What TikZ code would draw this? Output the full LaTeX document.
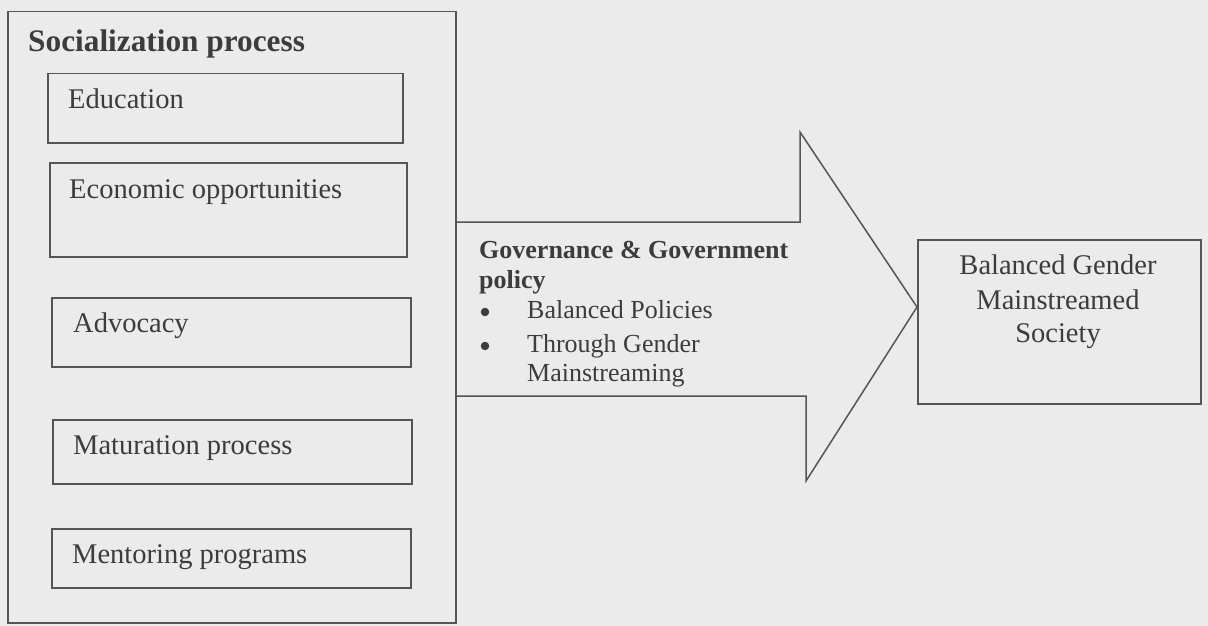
\documentclass[tikz,border=0pt]{standalone}
\usepackage{fontspec}
\setmainfont{Liberation Serif}
\definecolor{ink}{HTML}{555555}
\definecolor{txtc}{HTML}{3C3C3C}
\definecolor{paper}{HTML}{EBEBEB}
\begin{document}
\begin{tikzpicture}[x=1pt,y=-1pt,
  box/.style={draw=ink, line width=1.5pt, rectangle, inner sep=0pt, anchor=north west},
  lbl/.style={anchor=base west, inner sep=0pt, text=txtc, font=\fontsize{28.5}{34}\selectfont},
  govtxt/.style={anchor=base west, inner sep=0pt, text=txtc, font=\fontsize{26}{29}\selectfont},
  govbold/.style={govtxt, font=\bfseries\fontsize{26}{30}\selectfont},
  baltxt/.style={anchor=base, inner sep=0pt, text=txtc, font=\fontsize{28.5}{34}\selectfont},
  bulletdot/.style={circle, fill=txtc, inner sep=0pt, minimum size=8.5pt},
  arrowline/.style={draw=ink, line width=1.5pt, line join=miter}
]
\fill[paper] (0,0) rectangle (1208,626);
\useasboundingbox (0,0) rectangle (1208,626);

% left container
\node[box, minimum width=448, minimum height=611] (outer) at (7,11) {};
\node[lbl, font=\bfseries\fontsize{31.3}{34}\selectfont] (title) at (28,52) {Socialization process};

\node[box, minimum width=355, minimum height=69] (edu) at (47,73) {};
\node[lbl] (edut) at (68,109) {Education};

\node[box, minimum width=357, minimum height=94] (eco) at (49,162) {};
\node[lbl] (ecot) at (69,198) {Economic opportunities};

\node[box, minimum width=359, minimum height=69] (adv) at (51,297) {};
\node[lbl] (advt) at (73,332) {Advocacy};

\node[box, minimum width=359, minimum height=64] (mat) at (52,419) {};
\node[lbl] (matt) at (73,454) {Maturation process};

\node[box, minimum width=359, minimum height=59] (men) at (51,528) {};
\node[lbl] (ment) at (72,563) {Mentoring programs};

% right box
\node[box, minimum width=283, minimum height=164] (bal) at (917,239) {};
\node[baltxt] (balt1) at (1058,274) {Balanced Gender};
\node[baltxt] (balt2) at (1058,309) {Mainstreamed};
\node[baltxt] (balt3) at (1058,342) {Society};

% block arrow
\coordinate (tip) at (bal.west |- 0,307);
\draw[arrowline] (outer.north east |- 0,222) -- (800,222) -- (800,132) -- (tip) -- (806,481) -- (806,396) -- (outer.north east |- 0,396);

% arrow text
\node[govbold] (gov1) at (479,258) {Governance \& Government};
\node[govbold] (gov2) at (479,288) {policy};
\node[bulletdot] (b1) at (485,312) {};
\node[govtxt] (p1) at (527,318) {Balanced Policies};
\node[bulletdot] (b2) at (485,346) {};
\node[govtxt] (p2) at (527,352) {Through Gender};
\node[govtxt] (p3) at (527,381) {Mainstreaming};
\end{tikzpicture}
\end{document}
